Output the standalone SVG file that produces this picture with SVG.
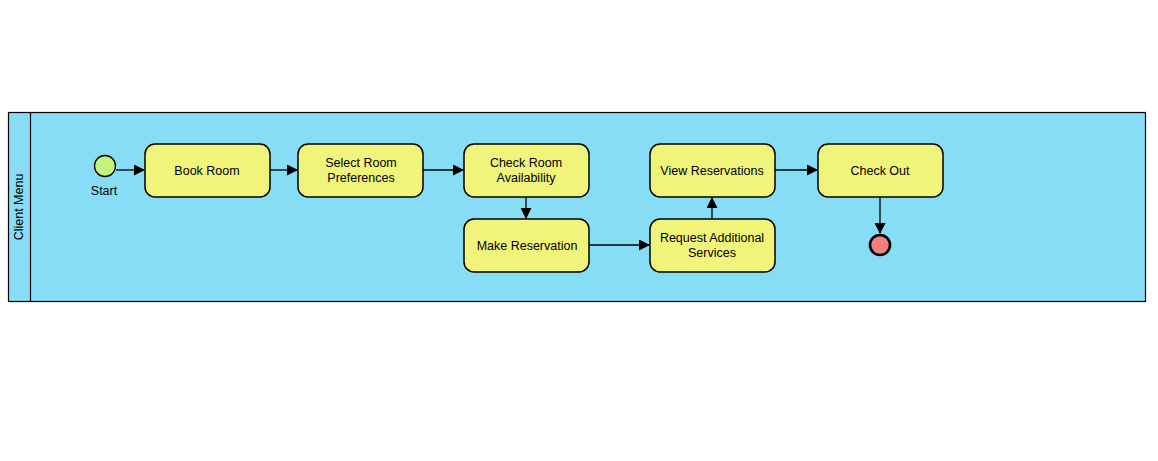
<svg xmlns="http://www.w3.org/2000/svg" width="1158" height="461" viewBox="0 0 1158 461">
<defs>
<style>
.task{fill:#F0F47A;stroke:#000;stroke-width:1.5}
.t{font-family:"Liberation Sans",Arial,sans-serif;font-size:12.5px;fill:#000;text-anchor:middle}
.c{stroke:#000;stroke-width:1.3;fill:none;marker-end:url(#ah)}
</style>
<marker id="ah" markerWidth="11" markerHeight="11" refX="10" refY="5.5" orient="auto" markerUnits="userSpaceOnUse">
<path d="M0,0 L11,5.5 L0,11 Z" fill="#000"/>
</marker>
</defs>
<rect width="1158" height="461" fill="#fff"/>
<g id="pool">
<rect x="8.5" y="112.5" width="1137" height="189" fill="#87DDF5" stroke="#000" stroke-width="1.2"/>
<line x1="30.5" y1="112.5" x2="30.5" y2="301.5" stroke="#000" stroke-width="1.2"/>
<text class="t" transform="translate(23,207) rotate(-90)">Client Menu</text>
</g>
<g id="connectors">
<line class="c" x1="116" y1="170" x2="144" y2="170"/>
<line class="c" x1="270" y1="170" x2="297" y2="170"/>
<line class="c" x1="423" y1="170" x2="463" y2="170"/>
<line class="c" x1="526" y1="197" x2="526" y2="218"/>
<line class="c" x1="589" y1="245" x2="649" y2="245"/>
<line class="c" x1="712" y1="219" x2="712" y2="198"/>
<line class="c" x1="775" y1="170" x2="817" y2="170"/>
<line class="c" x1="880" y1="197" x2="880" y2="233"/>
</g>
<g id="start">
<circle cx="105" cy="166" r="10.5" fill="#C5F27A" stroke="#000" stroke-width="1.3"/>
<text class="t" x="104" y="195">Start</text>
</g>
<g id="book-room">
<rect class="task" x="145" y="144" width="125" height="53" rx="10"/>
<text class="t" x="207" y="175">Book Room</text>
</g>
<g id="select-room">
<rect class="task" x="298" y="144" width="125" height="53" rx="10"/>
<text class="t" x="361" y="167">Select Room</text>
<text class="t" x="361" y="182">Preferences</text>
</g>
<g id="check-room">
<rect class="task" x="464" y="144" width="125" height="53" rx="10"/>
<text class="t" x="526" y="167">Check Room</text>
<text class="t" x="526" y="182">Availability</text>
</g>
<g id="make-reservation">
<rect class="task" x="464" y="219" width="125" height="53" rx="10"/>
<text class="t" x="527" y="250">Make Reservation</text>
</g>
<g id="request-services">
<rect class="task" x="650" y="219" width="125" height="53" rx="10"/>
<text class="t" x="712" y="242">Request Additional</text>
<text class="t" x="712" y="257">Services</text>
</g>
<g id="view-reservations">
<rect class="task" x="650" y="144" width="125" height="53" rx="10"/>
<text class="t" x="712" y="175">View Reservations</text>
</g>
<g id="check-out">
<rect class="task" x="818" y="144" width="125" height="53" rx="10"/>
<text class="t" x="880" y="175">Check Out</text>
</g>
<g id="end">
<circle cx="880" cy="245" r="10" fill="#F27F7F" stroke="#000" stroke-width="2.6"/>
</g>
</svg>
